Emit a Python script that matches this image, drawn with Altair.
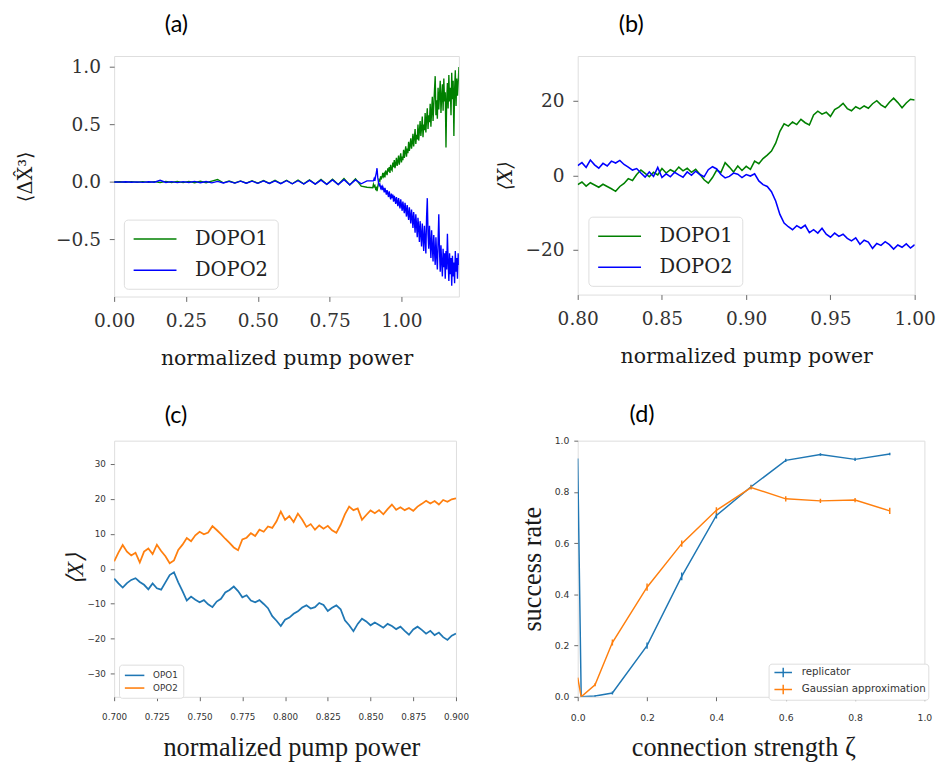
import altair as alt
import numpy as np
import pandas as pd

SERIF = "DejaVu Serif"
SANS = "DejaVu Sans"
TIMES = "Liberation Serif"
HEAD = "Lato"

# ---------------- panel (a) data ----------------
A_X1 = [round(0.02 * i, 3) for i in range(46)]              # 0.00 .. 0.90
A_X2 = [round(0.9025 + 0.0025 * i, 4) for i in range(120)]  # 0.9025 .. 1.20
A_DOPO1_1 = [0.000, 0.002, -0.002, 0.003, -0.002, 0.004, -0.003, 0.004, -0.004, 0.005,
             -0.004, 0.006, -0.005, 0.006, -0.006, 0.007, -0.006, 0.008, 0.022, -0.007,
             0.009, -0.008, 0.010, -0.010, 0.012, -0.010, 0.013, -0.012, 0.015, -0.013,
             0.016, -0.015, 0.018, -0.016, 0.020, -0.018, 0.022, -0.020, 0.025, -0.022,
             0.030, -0.025, 0.028, -0.035, -0.045, -0.050]
A_DOPO2_1 = [0.000, -0.001, 0.002, -0.002, 0.001, -0.003, 0.002, -0.002, 0.015, -0.004,
             0.003, -0.005, 0.004, -0.004, 0.005, -0.006, 0.004, -0.007, 0.006, -0.008,
             0.005, -0.009, 0.008, -0.010, 0.007, -0.011, 0.010, -0.012, 0.009, -0.014,
             0.012, -0.015, 0.011, -0.017, 0.014, -0.018, 0.016, -0.020, 0.018, -0.022,
             0.020, -0.024, 0.018, -0.015, 0.010, 0.010]
A_DOPO1_2 = [-0.02, -0.04, -0.03, -0.06, -0.05, -0.08, -0.04, -0.01, 0.02, 0.01,
             0.05, 0.03, 0.04, 0.08, 0.05, 0.07, 0.04, 0.10, 0.08, 0.06,
             0.12, 0.09, 0.13, 0.08, 0.15, 0.11, 0.10, 0.17, 0.13, 0.19,
             0.12, 0.16, 0.21, 0.14, 0.18, 0.23, 0.15, 0.20, 0.25, 0.17,
             0.22, 0.19, 0.28, 0.21, 0.26, 0.31, 0.22, 0.29, 0.25, 0.35,
             0.27, 0.32, 0.38, 0.29, 0.34, 0.42, 0.31, 0.38, 0.46, 0.33,
             0.41, 0.37, 0.50, 0.36, 0.44, 0.53, 0.40, 0.47, 0.57, 0.39,
             0.50, 0.45, 0.60, 0.43, 0.55, 0.64, 0.46, 0.58, 0.52, 0.68,
             0.48, 0.62, 0.74, 0.53, 0.66, 0.80, 0.92, 0.58, 0.71, 0.55,
             0.82, 0.63, 0.76, 0.88, 0.60, 0.74, 0.85, 0.62, 0.90, 0.70,
             0.78, 0.30, 0.72, 0.86, 0.64, 0.93, 0.70, 0.82, 0.58, 0.95,
             0.72, 0.88, 0.40, 0.80, 0.97, 0.66, 0.90, 0.75, 0.86, 1.00]
A_DOPO2_2 = [0.01, 0.03, 0.01, 0.05, 0.08, 0.12, 0.04, 0.00, -0.03, -0.02,
             -0.05, -0.03, -0.07, -0.04, -0.06, -0.09, -0.05, -0.08, -0.11, -0.07,
             -0.10, -0.13, -0.08, -0.12, -0.15, -0.10, -0.14, -0.11, -0.17, -0.12,
             -0.15, -0.19, -0.13, -0.17, -0.21, -0.14, -0.19, -0.23, -0.15, -0.20,
             -0.25, -0.17, -0.22, -0.27, -0.18, -0.24, -0.30, -0.20, -0.27, -0.33,
             -0.22, -0.29, -0.36, -0.24, -0.31, -0.40, -0.26, -0.34, -0.44, -0.28,
             -0.37, -0.48, -0.31, -0.40, -0.52, -0.34, -0.45, -0.56, -0.36, -0.48,
             -0.60, -0.38, -0.50, -0.62, -0.30, -0.14, -0.45, -0.58, -0.38, -0.52,
             -0.66, -0.42, -0.56, -0.69, -0.46, -0.60, -0.72, -0.48, -0.64, -0.76,
             -0.52, -0.28, -0.60, -0.78, -0.55, -0.70, -0.82, -0.58, -0.74, -0.62,
             -0.84, -0.60, -0.76, -0.45, -0.70, -0.86, -0.62, -0.80, -0.66, -0.90,
             -0.64, -0.82, -0.70, -0.88, -0.60, -0.78, -0.66, -0.84, -0.62, -0.72]

# ---------------- panel (b) data ----------------
B_X = [round(0.8 + 0.0025 * i, 4) for i in range(81)]
B_DOPO1 = [-2.5, -1.8, -2.9, -2.0, -2.6, -3.2, -2.4, -3.0, -3.6, -4.3,
           -3.0, -2.2, -0.9, -1.4, 0.2, 1.4, 0.5, -0.4, 0.8, 0.1,
           1.8, 0.6, 1.5, 0.9, 2.2, 1.2, 1.9, 0.8, 1.6, 0.3,
           -1.2, -2.1, -0.6, 1.4, 0.8, 3.4, 2.2, 0.9, 2.5, 1.3,
           2.4, 1.6, 3.8, 3.1, 4.5, 5.4, 6.5, 8.6, 11.8, 13.8,
           13.2, 14.3, 13.6, 15.0, 14.1, 13.5, 16.2, 17.2, 16.4, 16.9,
           15.8, 17.6, 18.3, 19.3, 17.9, 17.3, 18.4, 17.8, 18.6, 18.0,
           19.2, 20.0, 18.9, 18.2, 19.6, 20.7, 19.5, 18.1, 19.4, 20.4,
           20.2]
B_DOPO2 = [2.6, 3.4, 2.1, 4.1, 2.8, 1.9, 3.2, 2.5, 3.8, 3.3,
           4.0, 2.9, 2.2, 1.4, 1.8, 0.6, -0.5, 0.9, -0.3, 2.1,
           -0.6, 0.4, -0.4, 0.8, 0.1, -0.5, 0.9, 0.0, 1.1, 0.2,
           -0.4, 1.5, 2.3, 1.7, 0.2, -0.7, -0.3, 0.6, 0.3, -0.6,
           0.2, -0.2, 0.4, -1.5, -2.5, -3.0, -4.4, -6.9, -10.5, -12.8,
           -13.8, -14.6, -13.5, -14.2, -13.4, -15.4, -14.6, -15.5, -14.2, -15.8,
           -16.6, -15.5, -16.4, -15.8, -16.9, -17.6, -16.8, -18.5, -17.4, -17.9,
           -19.6, -18.3, -18.8, -17.8, -18.6, -19.8, -18.7, -19.3, -18.4, -19.5,
           -18.6]

# ---------------- panel (c) data ----------------
C_X = [round(0.7 + 0.0025 * i, 4) for i in range(81)]
C_OPO1 = [-2.8, -4.2, -5.4, -4.1, -3.2, -2.7, -3.8, -4.6, -5.9, -4.2,
          -5.6, -6.0, -3.9, -1.8, -1.0, -3.9, -6.4, -9.1, -8.0, -8.9,
          -9.6, -9.0, -10.2, -11.0, -9.4, -8.6, -6.8, -6.1, -5.1, -6.4,
          -8.2, -7.6, -9.1, -9.6, -9.0, -10.1, -11.3, -13.6, -14.9, -16.4,
          -14.6, -14.0, -12.9, -12.2, -11.1, -10.5, -11.4, -11.0, -9.8, -10.4,
          -12.1, -11.2, -10.5, -11.6, -14.8, -16.2, -17.9, -15.8, -14.3, -15.1,
          -16.2, -15.4, -16.1, -16.9, -15.8, -16.4, -17.3, -16.6, -17.8, -18.9,
          -17.4, -16.6, -17.5, -18.6, -17.8, -19.0, -18.3, -19.6, -20.4, -19.2,
          -18.6]
C_OPO2 = [2.1, 4.6, 6.8, 4.9, 3.8, 4.6, 1.8, 4.9, 5.8, 4.2,
          6.9, 5.1, 3.6, 1.6, 2.4, 5.4, 6.9, 8.8, 7.9, 9.6,
          10.6, 9.9, 10.4, 12.2, 11.1, 9.9, 8.6, 7.4, 6.1, 5.3,
          8.4, 8.9, 10.2, 9.4, 11.2, 10.6, 12.1, 11.7, 13.6, 16.4,
          14.0, 15.1, 13.4, 15.8, 14.1, 12.0, 12.8, 11.2, 12.4, 11.5,
          12.3, 11.0, 10.3, 12.6, 15.6, 17.8, 16.8, 17.3, 14.0, 15.4,
          16.7, 15.9, 16.8, 15.6, 17.1, 18.4, 16.9, 17.6, 16.8, 17.4,
          16.6, 17.8, 18.6, 19.5, 18.7, 19.4, 18.4, 19.7, 19.2, 19.9,
          20.2]

# ---------------- panel (d) data ----------------
D_ZETA = [0.0, 0.01, 0.05, 0.1, 0.2, 0.3, 0.4, 0.5, 0.6, 0.7, 0.8, 0.9]
D_REPLICATOR = [0.93, 0.0, 0.003, 0.015, 0.200, 0.470, 0.708, 0.820, 0.923, 0.946, 0.927, 0.948]
D_REPLICATOR_ERR = [0.0, 0.0, 0.003, 0.006, 0.012, 0.015, 0.012, 0.008, 0.006, 0.005, 0.006, 0.005]
D_GAUSS = [0.075, 0.0, 0.047, 0.212, 0.428, 0.598, 0.728, 0.817, 0.773, 0.765, 0.768, 0.726]
D_GAUSS_ERR = [0.0, 0.0, 0.006, 0.012, 0.014, 0.012, 0.012, 0.008, 0.010, 0.008, 0.008, 0.012]


def make_axis(values, fmt, title, label_font, label_size, tick_size, label_pad,
              title_font, title_size, title_x=None, title_y=None, title_style="normal"):
    kw = dict(values=values, format=fmt, title=title, grid=False, domain=False,
              labelFont=label_font, labelFontSize=label_size, labelColor="#333",
              labelFlush=False, labelOverlap=False, labelBound=False,
              tickSize=tick_size, tickColor="#666", tickWidth=1, labelPadding=label_pad,
              titleFont=title_font, titleFontSize=title_size, titleColor="#1a1a1a",
              titleFontWeight="normal", titleFontStyle=title_style,
              titleAlign="center", titleBaseline="middle")
    if title_x is not None:
        kw["titleX"] = title_x
    if title_y is not None:
        kw["titleY"] = title_y
    return alt.Axis(**kw)


def head(text, dx, offset):
    return alt.TitleParams(text=text, font=HEAD, fontSize=24, fontWeight="normal",
                           color="black", anchor="middle", frame="group", dx=dx,
                           offset=offset)


# ---------------- panel (a) ----------------
W_A, H_A = 354, 247
df_a = pd.DataFrame({
    "x": A_X1 + A_X2 + A_X1 + A_X2,
    "y": A_DOPO1_1 + A_DOPO1_2 + A_DOPO2_1 + A_DOPO2_2,
    "series": ["DOPO1"] * (len(A_X1) + len(A_X2)) + ["DOPO2"] * (len(A_X1) + len(A_X2)),
})
legend_serif = dict(title=None, orient="none", fillColor="white", strokeColor="#dddddd",
                    cornerRadius=4, padding=9, labelFont=SERIF, labelFontSize=20,
                    labelColor="#222", symbolType="M-2.2,0H2.2", symbolSize=400,
                    symbolOffset=12, symbolStrokeWidth=1.6, symbolFillColor="transparent",
                    labelOffset=30, rowPadding=11)
chart_a = alt.Chart(df_a).mark_line(strokeWidth=1.4, clip=True).encode(
    x=alt.X("x:Q", scale=alt.Scale(domain=[0, 1.2], nice=False, zero=False),
            axis=make_axis([0, 0.25, 0.5, 0.75, 1.0], ".2f", "normalized pump power",
                           SERIF, 19, 5, 11, SERIF, 21, title_y=64)),
    y=alt.Y("y:Q", scale=alt.Scale(domain=[-0.995, 1.095], nice=False, zero=False),
            axis=make_axis([-0.5, 0.0, 0.5, 1.0], ".1f", "⟨ΔX̂³⟩",
                           SERIF, 19, 5, 9, SERIF, 20, title_x=-91, title_y=H_A / 2)),
    color=alt.Color("series:N", scale=alt.Scale(domain=["DOPO1", "DOPO2"], range=["#008000", "#0000ff"]),
                    legend=alt.Legend(legendX=10, legendY=168, **legend_serif)),
).properties(width=W_A, height=H_A, title=head("(a)", -113, 20))

# ---------------- panel (b) ----------------
W_B, H_B = 346, 245
df_b = pd.DataFrame({
    "x": B_X + B_X,
    "y": B_DOPO1 + B_DOPO2,
    "series": ["DOPO1"] * len(B_X) + ["DOPO2"] * len(B_X),
})
chart_b = alt.Chart(df_b).mark_line(strokeWidth=1.6, clip=True).encode(
    x=alt.X("x:Q", scale=alt.Scale(domain=[0.8, 1.0], nice=False, zero=False),
            axis=make_axis([0.8, 0.85, 0.9, 0.95, 1.0], ".2f", "normalized pump power",
                           SERIF, 19, 5, 11, SERIF, 21, title_y=64)),
    y=alt.Y("y:Q", scale=alt.Scale(domain=[-32, 32], nice=False, zero=False),
            axis=make_axis([-20, 0, 20], "d", "⟨X⟩",
                           SERIF, 19, 5, 9, SERIF, 20, title_x=-74, title_y=H_B / 2,
                           title_style="italic")),
    color=alt.Color("series:N", scale=alt.Scale(domain=["DOPO1", "DOPO2"], range=["#008000", "#0000ff"]),
                    legend=alt.Legend(legendX=11, legendY=165, **legend_serif)),
).properties(width=W_B, height=H_B, title=head("(b)", -118, 20))

# ---------------- panel (c) ----------------
W_C, H_C = 351, 263
df_c = pd.DataFrame({
    "x": C_X + C_X,
    "y": C_OPO1 + C_OPO2,
    "series": ["OPO1"] * len(C_X) + ["OPO2"] * len(C_X),
})
chart_c = alt.Chart(df_c).mark_line(strokeWidth=1.8, clip=True).encode(
    x=alt.X("x:Q", scale=alt.Scale(domain=[0.7, 0.9], nice=False, zero=False),
            axis=make_axis([0.7, 0.725, 0.75, 0.775, 0.8, 0.825, 0.85, 0.875, 0.9], ".3f",
                           "normalized pump power", SANS, 9, 4, 12, TIMES, 27,
                           title_x=182, title_y=52)),
    y=alt.Y("y:Q", scale=alt.Scale(domain=[-36.7, 36.7], nice=False, zero=False),
            axis=make_axis([-30, -20, -10, 0, 10, 20, 30], "d", "⟨X⟩",
                           SANS, 9, 4, 5, TIMES, 24, title_x=-39, title_y=H_C / 2,
                           title_style="italic")),
    color=alt.Color("series:N", scale=alt.Scale(domain=["OPO1", "OPO2"], range=["#1f77b4", "#ff7f0e"]),
                    legend=alt.Legend(title=None, orient="none", legendX=5, legendY=230,
                                      fillColor="white", strokeColor="#dddddd", cornerRadius=3,
                                      padding=5, labelFont=SANS, labelFontSize=9, labelColor="#333",
                                      symbolType="M-2,0H2", symbolSize=100, symbolOffset=5,
                                      symbolStrokeWidth=1.6, symbolFillColor="transparent",
                                      labelOffset=13, rowPadding=2)),
).properties(width=W_C, height=H_C, title=head("(c)", -112, 13))

# ---------------- panel (d) ----------------
W_D, H_D = 356, 263
names_d = ["replicator", "Gaussian approximation"]
df_d = pd.DataFrame({
    "x": D_ZETA + D_ZETA,
    "y": D_REPLICATOR + D_GAUSS,
    "lo": [v - e for v, e in zip(D_REPLICATOR, D_REPLICATOR_ERR)] + [v - e for v, e in zip(D_GAUSS, D_GAUSS_ERR)],
    "hi": [v + e for v, e in zip(D_REPLICATOR, D_REPLICATOR_ERR)] + [v + e for v, e in zip(D_GAUSS, D_GAUSS_ERR)],
    "series": [names_d[0]] * len(D_ZETA) + [names_d[1]] * len(D_ZETA),
})
x_d = alt.X("x:Q", scale=alt.Scale(domain=[0, 1], nice=False, zero=False),
            axis=make_axis([0, 0.2, 0.4, 0.6, 0.8, 1.0], ".1f", "connection strength ζ",
                           SANS, 9.5, 4, 12, TIMES, 27, title_x=170, title_y=52))
y_d = alt.Y("y:Q", scale=alt.Scale(domain=[0, 1], nice=False, zero=False),
            axis=make_axis([0, 0.2, 0.4, 0.6, 0.8, 1.0], ".1f", "success rate",
                           SANS, 9.5, 4, 5, TIMES, 27, title_x=-46, title_y=H_D / 2))
color_d = alt.Color("series:N", scale=alt.Scale(domain=names_d, range=["#1f77b4", "#ff7f0e"]),
                    legend=alt.Legend(title=None, orient="none", legendX=196, legendY=229,
                                      fillColor="white", strokeColor="#dddddd", cornerRadius=3,
                                      padding=2, labelFont=SANS, labelFontSize=10.5, labelColor="#333",
                                      symbolType="M-1.5,0H1.5M0,-0.8V0.8", symbolSize=144,
                                      symbolOffset=6, symbolStrokeWidth=1.5,
                                      symbolFillColor="transparent", labelOffset=12, rowPadding=1.5))
lines_d = alt.Chart(df_d).mark_line(strokeWidth=1.5, clip=True).encode(x=x_d, y=y_d, color=color_d)
bars_d = alt.Chart(df_d).mark_rule(strokeWidth=1.5, clip=True).encode(
    x=x_d, y=alt.Y("lo:Q"), y2="hi:Q", color=color_d)
chart_d = alt.layer(lines_d, bars_d).properties(width=W_D, height=H_D, title=head("(d)", -112, 9))

chart = alt.concat(chart_a, chart_b, chart_c, chart_d, columns=2,
                   spacing={"row": 148, "column": 122}, bounds="flush").resolve_scale(
    color="independent", x="independent", y="independent").resolve_legend(
    color="independent").properties(
    padding={"left": 7, "top": -6, "right": 4, "bottom": 4}
).configure_view(stroke="#8c8c8c", strokeWidth=1.3).configure(background="white")

chart.save("out.html", embed_options={"renderer": "svg", "actions": False})
